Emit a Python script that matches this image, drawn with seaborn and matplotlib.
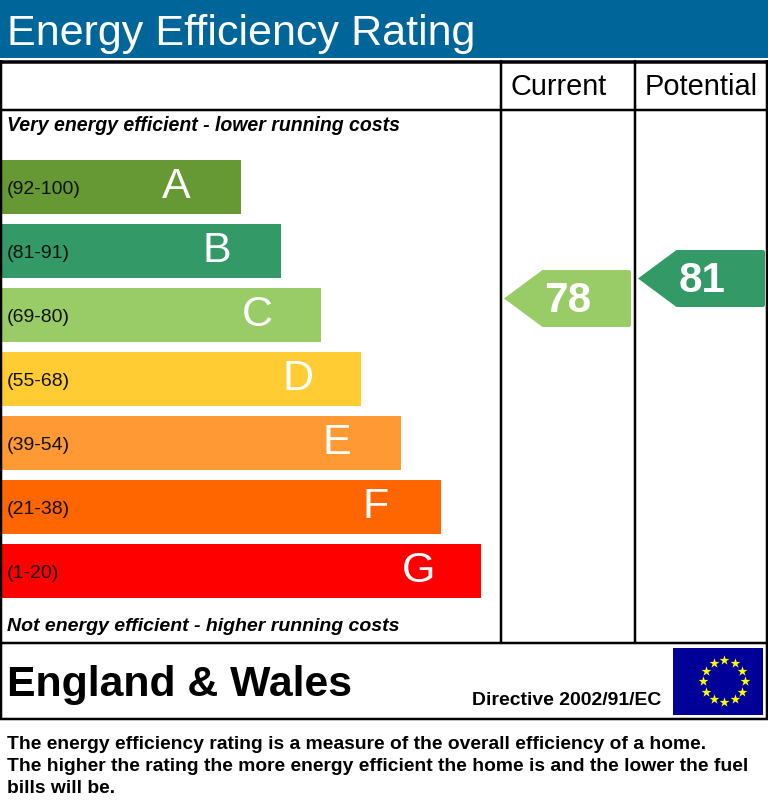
import numpy as np
import pandas as pd
import seaborn as sns
import matplotlib.pyplot as plt
from matplotlib.path import Path
from matplotlib.patches import Rectangle

# chart values
bands = ['A', 'B', 'C', 'D', 'E', 'F', 'G']
band_ranges = ['(92-100)', '(81-91)', '(69-80)', '(55-68)', '(39-54)', '(21-38)', '(1-20)']
band_lengths = [6, 7, 8, 9, 10, 11, 12]
band_colors = ['#669933', '#339966', '#99CC66', '#FFCC33', '#FF9933', '#FF6600', '#FF0000']
columns = ['Current', 'Potential']
ratings = [78, 81]
rating_bands = ['C', 'B']

W, H = 768, 808
FONT = 'Liberation Sans'
PX = 0.72  # points per pixel at dpi 100

sns.set_theme(style='white')
plt.rcParams['font.family'] = [FONT, 'DejaVu Sans']

fig = plt.figure(figsize=(W / 100, H / 100), dpi=100, facecolor='white')


def px_axes(left, top, right, bottom, z):
    a = fig.add_axes([left / W, 1 - bottom / H, (right - left) / W, (bottom - top) / H], zorder=z)
    a.patch.set_alpha(0)
    a.axis('off')
    return a


# page furniture, in pixel units
page = px_axes(0, 0, W, H, 2)
page.set_xlim(0, W)
page.set_ylim(H, 0)
page.add_patch(Rectangle((0, 0), W, 58, color='#006699', lw=0))
page.text(7, 45.5, 'Energy Efficiency Rating', color='white', fontsize=31.05, va='baseline')

for y, t in [(61.5, 3.5), (109.5, 2.5), (643, 2.5), (719, 2.5)]:
    page.plot([0, W], [y, y], color='black', lw=t * PX, solid_capstyle='butt')
for x, top, bot in [(1, 60, 720), (767, 60, 720), (500.5, 60, 643), (634.5, 60, 643)]:
    page.plot([x, x], [top, bot], color='black', lw=2.5 * PX, solid_capstyle='butt')

page.text(7, 131, 'Very energy efficient - lower running costs', fontsize=14.05,
          fontweight='bold', fontstyle='italic', color='black')
page.text(7, 631, 'Not energy efficient - higher running costs', fontsize=14,
          fontweight='bold', fontstyle='italic', color='black')
page.text(559, 95, columns[0], fontsize=20.8, ha='center', color='black')
page.text(701, 95, columns[1], fontsize=20.9, ha='center', color='black')

page.text(7, 696, 'England & Wales', fontsize=30.8, fontweight='bold', color='black')
page.text(472, 705, 'Directive 2002/91/EC', fontsize=13.95, fontweight='bold', color='black')
page.text(7, 749, 'The energy efficiency rating is a measure of the overall efficiency of a home.',
          fontsize=13.87, fontweight='bold', color='black')
page.text(7, 771, 'The higher the rating the more energy efficient the home is and the lower the fuel',
          fontsize=13.87, fontweight='bold', color='black')
page.text(7, 793, 'bills will be.', fontsize=13.87, fontweight='bold', color='black')

# EU flag
page.add_patch(Rectangle((673, 648), 90, 67, color='#000099', lw=0))
angles = np.deg2rad(np.arange(0, 360, 30))
page.scatter(724 + 21 * np.cos(angles), 681 + 21 * np.sin(angles), marker='*', s=55,
             color='#FFFF00', linewidths=0)

# rating bands
ax = px_axes(1, 155, W, 603, 1)
df = pd.DataFrame({'band': bands, 'length': band_lengths})
sns.barplot(data=df, x='length', y='band', hue='band', palette=band_colors, saturation=1,
            width=54 / 64, legend=False, linewidth=0, ax=ax)
ax.set_xlim(0, (W - 1) / 40)
ax.set_ylim(6.5, -0.5)
ax.axis('off')
for i, (letter, rng, length) in enumerate(zip(bands, band_ranges, band_lengths)):
    ax.text(0.15, i + 0.04, rng, fontsize=14, va='center', color='#111111')
    ax.text(length - 1.97, i, letter, fontsize=31, va='center', ha='left', color='white')

# rating arrows, y axis runs in rating points
arrow = Path([(-63.5, 0), (-25, 28.5), (62, 28.5), (63.5, 27), (63.5, -27), (62, -28.5),
              (-25, -28.5), (-63.5, 0)], closed=True)
score = px_axes(500.5, 110, 768.5, 643, 3)
score_df = pd.DataFrame({'column': columns, 'rating': ratings, 'band': rating_bands})
sns.scatterplot(data=score_df, x='column', y='rating', hue='band', palette=dict(zip(bands, band_colors)),
                marker=arrow, s=(127 * PX) ** 2, linewidth=0, legend=False, ax=score)
score.set_xlim(-0.5, 1.5)
score.set_ylim(78 - (643 - 298.5) * 0.15, 78 + (298.5 - 110) * 0.15)
score.axis('off')
for i, r in enumerate(ratings):
    score.annotate(str(r), (i, r), xytext=(0.3, -1.5), textcoords='offset points', fontsize=30.4,
                   fontweight='bold', color='white', ha='center', va='center')

fig.savefig('out.png', dpi=100)
